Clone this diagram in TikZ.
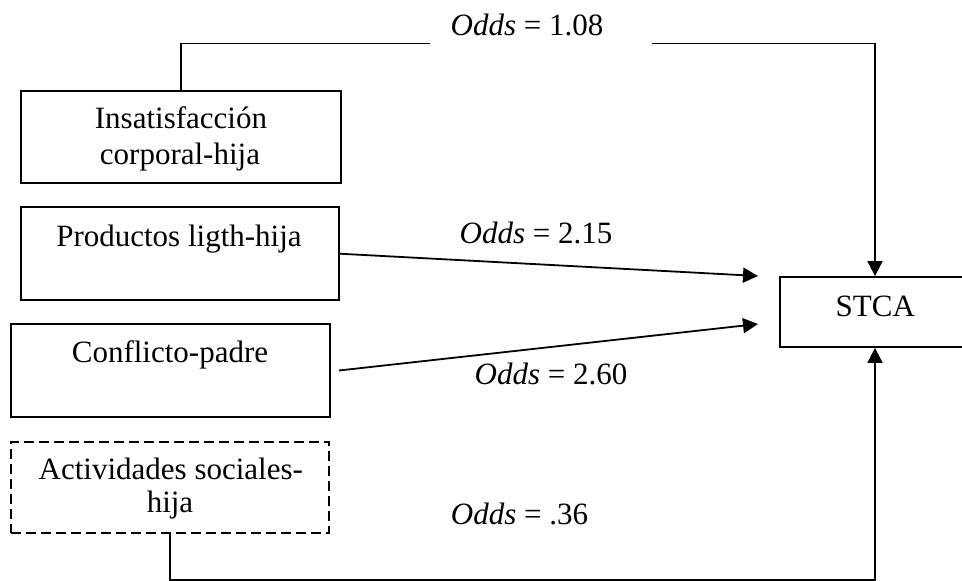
\documentclass[tikz,border=0pt]{standalone}
\usepackage{fontspec}
\setmainfont{Liberation Serif}
\usetikzlibrary{arrows.meta}
\begin{document}
\begin{tikzpicture}[x=1pt,y=-1pt,
  box/.style={draw, line width=1.8pt, rectangle, inner sep=0pt},
  dbox/.style={box, dash pattern=on 10pt off 5pt},
  txt/.style={anchor=base, inner sep=0pt, font=\fontsize{31}{36}\selectfont},
  link/.style={line width=1.8pt},
  arr/.style={link, -{Triangle[length=15pt,width=15pt]}}]
\useasboundingbox (0,0) rectangle (962,581);
\clip (0,0) rectangle (962,581);

% boxes
\node[box, minimum width=320pt, minimum height=92.6pt] (ins) at (180.7,137) {};
\node[box, minimum width=318pt, minimum height=92.7pt] (prod) at (179.6,253.7) {};
\node[box, minimum width=319pt, minimum height=93pt] (conf) at (170.5,370.5) {};
\node[dbox, minimum width=318pt, minimum height=91.6pt] (act) at (170,487.5) {};
\node[box, minimum width=190pt, minimum height=70pt] (stca) at (875,312) {};

% box texts
\node[txt] (insA) at (181,128) {Insatisfacción};
\node[txt] (insB) at (180,164) {corporal-hija};
\node[txt] (prodT) at (179,246.7) {Productos ligth-hija};
\node[txt] (confT) at (170,362.7) {Conflicto-padre};
\node[txt] (actA) at (170.8,479) {Actividades sociales-};
\node[txt] (actB) at (170,512.7) {hija};
\node[txt] (stcaT) at (875.3,316) {STCA};

% odds labels
\node[txt] (o1) at (527,35) {\textit{Odds} = 1.08};
\node[txt] (o2) at (536,243) {\textit{Odds} = 2.15};
\node[txt] (o3) at (551,384) {\textit{Odds} = 2.60};
\node[txt] (o4) at (519.5,524) {\textit{Odds} = .36};

% free ends of connectors
\coordinate (topL) at (430,43.5);
\coordinate (topR) at (652,43.5);
\coordinate (tipA) at (758,276);
\coordinate (tipB) at (758,324);

% connectors
\draw[link] (ins.north) |- (topL);
\draw[arr] (topR) -| (stca.north);
\draw[arr] (prod.east) -- (tipA);
\draw[arr] ([xshift=8pt]conf.east) -- (tipB);
\draw[arr] (act.south) -- ++(0,46) -| (stca.south);
\end{tikzpicture}
\end{document}
